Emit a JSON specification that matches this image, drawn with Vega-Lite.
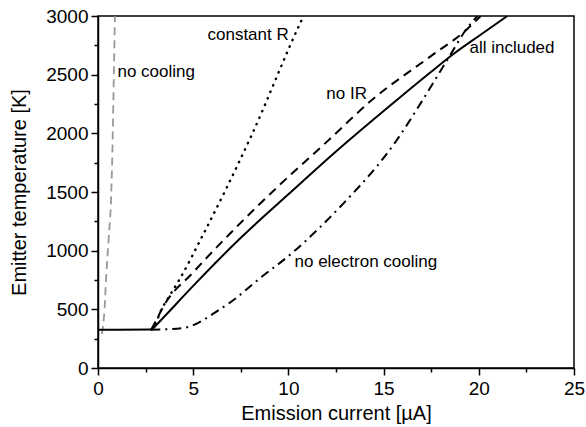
{
  "$schema": "https://vega.github.io/schema/vega-lite/v6.json",
  "width": 476,
  "height": 352,
  "autosize": {"type": "none"},
  "padding": {"left": 98, "top": 16, "right": 12, "bottom": 59},
  "background": "white",
  "config": {
    "view": {"stroke": "black", "strokeWidth": 1.5},
    "font": "Liberation Sans",
    "axis": {
      "grid": false,
      "domainColor": "black",
      "domainWidth": 1.5,
      "tickColor": "black",
      "tickWidth": 1.5,
      "labelFont": "Liberation Sans",
      "labelColor": "black",
      "labelFontSize": 19,
      "labelFlush": false,
      "titleFont": "Liberation Sans",
      "titleFontSize": 20,
      "titleFontWeight": "normal",
      "titleColor": "black"
    }
  },
  "datasets": {
    "curves": [
      {"series": "no cooling", "current": 0.2, "temp": 290},
      {"series": "no cooling", "current": 0.34, "temp": 494},
      {"series": "no cooling", "current": 0.43, "temp": 778},
      {"series": "no cooling", "current": 0.56, "temp": 1100},
      {"series": "no cooling", "current": 0.69, "temp": 1460},
      {"series": "no cooling", "current": 0.77, "temp": 1950},
      {"series": "no cooling", "current": 0.83, "temp": 2483},
      {"series": "no cooling", "current": 0.89, "temp": 3000},

      {"series": "all included", "current": 0, "temp": 325},
      {"series": "all included", "current": 2.8, "temp": 328},
      {"series": "all included", "current": 3.06, "temp": 366},
      {"series": "all included", "current": 3.4, "temp": 424},
      {"series": "all included", "current": 5.0, "temp": 700},
      {"series": "all included", "current": 7.5, "temp": 1110},
      {"series": "all included", "current": 10.0, "temp": 1480},
      {"series": "all included", "current": 12.5, "temp": 1845},
      {"series": "all included", "current": 15.0, "temp": 2190},
      {"series": "all included", "current": 17.5, "temp": 2525},
      {"series": "all included", "current": 18.6, "temp": 2668},
      {"series": "all included", "current": 20.0, "temp": 2830},
      {"series": "all included", "current": 21.5, "temp": 3000},

      {"series": "no IR", "current": 2.8, "temp": 328},
      {"series": "no IR", "current": 3.1, "temp": 420},
      {"series": "no IR", "current": 3.4, "temp": 515},
      {"series": "no IR", "current": 5.0, "temp": 815},
      {"series": "no IR", "current": 6.9, "temp": 1140},
      {"series": "no IR", "current": 9.54, "temp": 1560},
      {"series": "no IR", "current": 12.0, "temp": 1925},
      {"series": "no IR", "current": 14.43, "temp": 2290},
      {"series": "no IR", "current": 17.5, "temp": 2660},
      {"series": "no IR", "current": 19.34, "temp": 2881},
      {"series": "no IR", "current": 20.1, "temp": 3000},

      {"series": "constant R", "current": 2.8, "temp": 328},
      {"series": "constant R", "current": 3.05, "temp": 390},
      {"series": "constant R", "current": 3.32, "temp": 494},
      {"series": "constant R", "current": 3.7, "temp": 600},
      {"series": "constant R", "current": 4.3, "temp": 760},
      {"series": "constant R", "current": 5.5, "temp": 1130},
      {"series": "constant R", "current": 8.0, "temp": 1960},
      {"series": "constant R", "current": 10.7, "temp": 2966},
      {"series": "constant R", "current": 10.8, "temp": 3000},

      {"series": "no electron cooling", "current": 2.8, "temp": 325},
      {"series": "no electron cooling", "current": 3.23, "temp": 328},
      {"series": "no electron cooling", "current": 4.45, "temp": 340},
      {"series": "no electron cooling", "current": 5.0, "temp": 365},
      {"series": "no electron cooling", "current": 5.68, "temp": 424},
      {"series": "no electron cooling", "current": 6.22, "temp": 481},
      {"series": "no electron cooling", "current": 7.08, "temp": 575},
      {"series": "no electron cooling", "current": 8.39, "temp": 750},
      {"series": "no electron cooling", "current": 10.23, "temp": 985},
      {"series": "no electron cooling", "current": 13.03, "temp": 1427},
      {"series": "no electron cooling", "current": 14.7, "temp": 1730},
      {"series": "no electron cooling", "current": 15.66, "temp": 1935},
      {"series": "no electron cooling", "current": 17.0, "temp": 2270},
      {"series": "no electron cooling", "current": 18.29, "temp": 2611},
      {"series": "no electron cooling", "current": 19.51, "temp": 2923},
      {"series": "no electron cooling", "current": 19.93, "temp": 3000}
    ],
    "labels": [
      {"current": 1.02, "temp": 2522, "label": "no cooling"},
      {"current": 5.75, "temp": 2837, "label": "constant R"},
      {"current": 11.99, "temp": 2332, "label": "no IR"},
      {"current": 19.51, "temp": 2724, "label": "all included"},
      {"current": 10.32, "temp": 906, "label": "no electron cooling"}
    ],
    "minor": [
      {"current": 0, "temp": 0}
    ]
  },
  "layer": [
    {
      "data": {"name": "curves"},
      "encoding": {
        "x": {
          "field": "current", "type": "quantitative",
          "scale": {"domain": [0, 25], "nice": false, "zero": false},
          "axis": {"values": [0, 5, 10, 15, 20, 25], "tickSize": 7, "labelPadding": 4, "title": "Emission current [µA]", "titlePadding": 5}
        },
        "y": {
          "field": "temp", "type": "quantitative",
          "scale": {"domain": [0, 3000], "nice": false, "zero": false},
          "axis": {"values": [0, 500, 1000, 1500, 2000, 2500, 3000], "format": "d", "tickSize": 7, "labelPadding": 3, "title": "Emitter temperature [K]", "titlePadding": 16}
        }
      },
      "layer": [
        {
          "transform": [{"filter": "datum.series === 'no cooling'"}],
          "mark": {"type": "line", "color": "#999999", "strokeWidth": 1.8, "strokeDash": [8, 5], "interpolate": "monotone", "clip": true}
        },
        {
          "transform": [{"filter": "datum.series === 'all included'"}],
          "mark": {"type": "line", "color": "black", "strokeWidth": 2, "interpolate": "monotone", "clip": true}
        },
        {
          "transform": [{"filter": "datum.series === 'no IR'"}],
          "mark": {"type": "line", "color": "black", "strokeWidth": 2, "strokeDash": [9, 6], "interpolate": "monotone", "clip": true}
        },
        {
          "transform": [{"filter": "datum.series === 'constant R'"}],
          "mark": {"type": "line", "color": "black", "strokeWidth": 2.4, "strokeDash": [0.5, 6.5], "strokeCap": "round", "interpolate": "monotone", "clip": true}
        },
        {
          "transform": [{"filter": "datum.series === 'no electron cooling'"}],
          "mark": {"type": "line", "color": "black", "strokeWidth": 2, "strokeDash": [9, 5, 2, 5], "interpolate": "monotone", "clip": true}
        },
        {
          "data": {"name": "labels"},
          "mark": {"type": "text", "align": "left", "baseline": "middle", "fontSize": 17, "font": "Liberation Sans", "color": "black"},
          "encoding": {"text": {"field": "label"}}
        }
      ]
    },
    {
      "data": {"name": "minor"},
      "mark": {"type": "point", "opacity": 0},
      "encoding": {
        "x": {
          "field": "current", "type": "quantitative",
          "scale": {"domain": [0, 25], "nice": false, "zero": false},
          "axis": {"orient": "bottom", "values": [2.5, 7.5, 12.5, 17.5, 22.5], "labels": false, "domain": false, "tickSize": 4, "title": null}
        },
        "y": {
          "field": "temp", "type": "quantitative",
          "scale": {"domain": [0, 3000], "nice": false, "zero": false},
          "axis": {"orient": "left", "values": [250, 750, 1250, 1750, 2250, 2750], "labels": false, "domain": false, "tickSize": 4, "title": null}
        }
      }
    }
  ],
  "resolve": {"axis": {"x": "independent", "y": "independent"}}
}
